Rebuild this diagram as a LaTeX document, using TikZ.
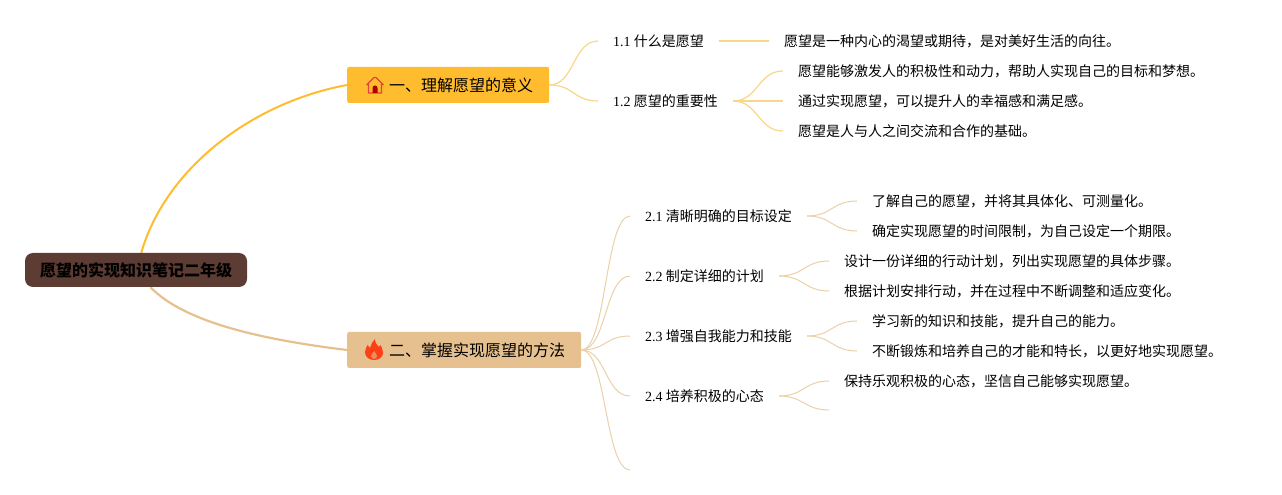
\documentclass[tikz,border=0pt]{standalone}
\usepackage{fontspec}
\setmainfont{Liberation Serif}
\newfontfamily\cjk{Noto Sans CJK SC}
\usetikzlibrary{backgrounds}
\definecolor{raiz}{HTML}{5D3D33}
\definecolor{tema1}{HTML}{FFBC2F}
\definecolor{tema2}{HTML}{E6C18F}
\definecolor{rama1}{HTML}{F9D688}
\definecolor{rama2}{HTML}{EBD0A8}
\definecolor{llama}{HTML}{FF3F14}
\definecolor{casa}{HTML}{E5433A}
\tikzset{
    raiznodo/.style={fill=raiz,rounded corners=8pt,minimum height=34pt,inner xsep=15pt,inner ysep=0pt,font=\fontsize{16}{16}\selectfont\cjk\bfseries},
    temanodo/.style={anchor=west,rounded corners=2pt,minimum height=36pt,inner xsep=16pt,inner ysep=0pt,font=\fontsize{16}{16}\selectfont\cjk},
    subnodo/.style={anchor=west,inner xsep=15pt,inner ysep=0pt,text height=13pt,text depth=1pt,font=\fontsize{14}{14}\selectfont\cjk},
    linea1/.style={rama1,line width=1.2pt},
    linea2/.style={rama2,line width=1pt},
}
\newcommand{\num}[1]{{\rmfamily #1} }
\begin{document}
\begin{tikzpicture}[x=1pt,y=1pt]
    \useasboundingbox (0,0) rectangle (1282,495);

    %Nodos principales
    \node[raiznodo] (root) at (136,225) {愿望的实现知识笔记二年级};
    \node[temanodo,fill=tema1] (t1) at (347,410) {\hspace*{26pt}一、理解愿望的意义};
    \node[temanodo,fill=tema2] (t2) at (347,145) {\hspace*{26pt}二、掌握实现愿望的方法};

    %Subtemas
    \node[subnodo] (s11) at (598,454) {\num{1.1}什么是愿望};
    \node[subnodo] (s12) at (598,394) {\num{1.2}愿望的重要性};
    \node[subnodo] (s21) at (630,279) {\num{2.1}清晰明确的目标设定};
    \node[subnodo] (s22) at (630,219) {\num{2.2}制定详细的计划};
    \node[subnodo] (s23) at (630,159) {\num{2.3}增强自我能力和技能};
    \node[subnodo] (s24) at (630,99) {\num{2.4}培养积极的心态};
    \coordinate (s25) at (630,25);

    %Hojas
    \node[subnodo] (h111) at (769,454) {愿望是一种内心的渴望或期待，是对美好生活的向往。};
    \node[subnodo] (h121) at (783,424) {愿望能够激发人的积极性和动力，帮助人实现自己的目标和梦想。};
    \node[subnodo] (h122) at (783,394) {通过实现愿望，可以提升人的幸福感和满足感。};
    \node[subnodo] (h123) at (783,364) {愿望是人与人之间交流和合作的基础。};
    \node[subnodo] (h211) at (857,294) {了解自己的愿望，并将其具体化、可测量化。};
    \node[subnodo] (h212) at (857,264) {确定实现愿望的时间限制，为自己设定一个期限。};
    \node[subnodo] (h221) at (829,234) {设计一份详细的行动计划，列出实现愿望的具体步骤。};
    \node[subnodo] (h222) at (829,204) {根据计划安排行动，并在过程中不断调整和适应变化。};
    \node[subnodo] (h231) at (857,174) {学习新的知识和技能，提升自己的能力。};
    \node[subnodo] (h232) at (857,144) {不断锻炼和培养自己的才能和特长，以更好地实现愿望。};
    \node[subnodo] (h241) at (829,114) {保持乐观积极的心态，坚信自己能够实现愿望。};
    \coordinate (h242) at (829,85);

    %Ramas
    \begin{scope}[on background layer]
        \draw[tema1,line width=2pt] (root.73) .. controls (165,325) and (250,392) .. (t1.west);
        \draw[tema2,line width=2.2pt] (root.-50) .. controls (185,172) and (265,155) .. (t2.west);
    \end{scope}
    \foreach \a/\b in {t1/s11,t1/s12}{
        \draw[linea1] (\a.east) .. controls +(25,0) and +(-25,0) .. (\b.west);
    }
    \foreach \a/\b in {s12/h121,s12/h122,s12/h123}{
        \draw[linea1] (\a.east) .. controls +(25,0) and +(-25,0) .. (\b.west);
    }
    \draw[linea1] (s11.east) -- (h111.west);
    \foreach \b in {s21,s22,s23,s24}{
        \draw[linea2] (t2.east) .. controls +(25,0) and +(-25,0) .. (\b.west);
    }
    \draw[linea2] (t2.east) .. controls +(25,0) and +(-25,0) .. (s25);
    \foreach \a/\b in {s21/h211,s21/h212,s22/h221,s22/h222,s23/h231,s23/h232,s24/h241}{
        \draw[linea2] (\a.east) .. controls +(25,0) and +(-25,0) .. (\b.west);
    }
    \draw[linea2] (s24.east) .. controls +(25,0) and +(-25,0) .. (h242);

    %Casa
    \begin{scope}[shift={(375,410)}]
        \draw[casa,line width=1.2pt,line join=round] (-8.5,0) -- (-1,7.5) -- (1,7.5) -- (8.5,0) (-6.5,1) -- (-6.5,-8) -- (6.5,-8) -- (6.5,1);
        \fill[red!70!black] (-2.5,-8) -- (-2.5,-3) arc (180:0:2.5) -- (2.5,-8) -- cycle;
    \end{scope}

    %Llama
    \begin{scope}[shift={(374,145)}]
        \fill[llama] (0,-10) .. controls (-6,-10) and (-9,-6) .. (-9,-2) .. controls (-9,1) and (-7,3) .. (-6.5,5) .. controls (-5,4) and (-4.5,3) .. (-4,2) .. controls (-3,5) and (-2,8) .. (1,11) .. controls (1,7) and (3,5) .. (5,3) .. controls (6,4) and (6.5,5) .. (6.5,5) .. controls (8,2) and (9,0) .. (9,-3) .. controls (9,-7) and (5,-10) .. (0,-10) -- cycle;
        \fill[tema2!60!llama] (0,-9) .. controls (-2,-9) and (-3,-7) .. (-3,-6) .. controls (-3,-4) and (-1,-3) .. (0,-1) .. controls (1,-3) and (3,-4) .. (3,-6) .. controls (3,-7) and (2,-9) .. (0,-9) -- cycle;
    \end{scope}
\end{tikzpicture}
\end{document}
